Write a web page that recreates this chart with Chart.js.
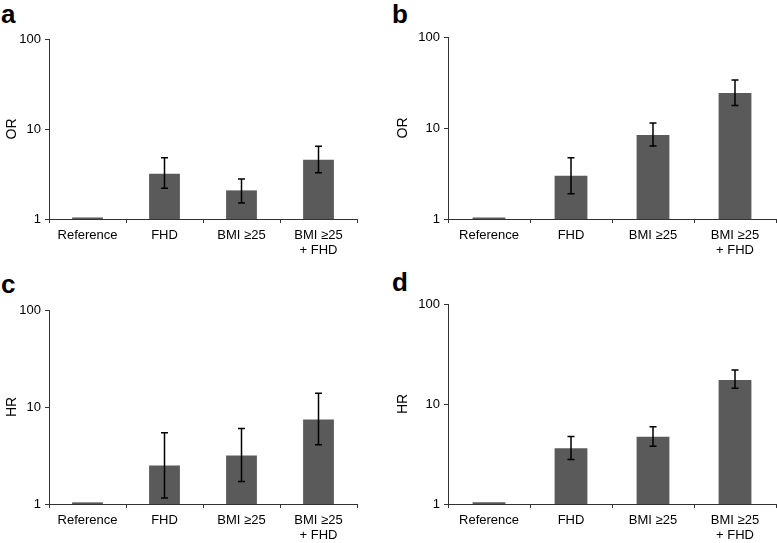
<!DOCTYPE html>
<html>
<head>
<meta charset="utf-8">
<script src="https://cdn.jsdelivr.net/npm/chart.js@4"></script>
<style>
    body { margin: 0; background: #fff; width: 777px; height: 543px; position: relative; overflow: hidden; font-family: "Liberation Sans", Arial, sans-serif; }
    .panel { position: absolute; }
    .letter { position: absolute; font-weight: bold; font-size: 26px; line-height: 26px; color: #000; }
</style>
</head>
<body>
<div class="letter" style="left:1px;top:1px">a</div>
<div class="letter" style="left:392px;top:1px">b</div>
<div class="letter" style="left:1px;top:271px">c</div>
<div class="letter" style="left:392px;top:269px">d</div>
<div class="panel" style="left:0;top:0"><canvas id="chartA" width="390" height="270"></canvas></div>
<div class="panel" style="left:390px;top:0"><canvas id="chartB" width="387" height="270"></canvas></div>
<div class="panel" style="left:0;top:270px"><canvas id="chartC" width="390" height="273"></canvas></div>
<div class="panel" style="left:390px;top:270px"><canvas id="chartD" width="387" height="273"></canvas></div>
<script>
const categories = ['Reference', 'FHD', 'BMI \u226525', ['BMI \u226525', '+ FHD']];
const yTicks = [1, 10, 100];

// a: OR
const valuesA = [1.04, 3.19, 2.08, 4.56];
const lowerA = [null, 2.19, 1.51, 3.27];
const upperA = [null, 4.8, 2.78, 6.42];

// b: OR
const valuesB = [1.04, 2.99, 8.37, 24.2];
const lowerB = [null, 1.90, 6.34, 17.7];
const upperB = [null, 4.72, 11.35, 33.7];

// c: HR
const valuesC = [1.04, 2.50, 3.16, 7.42];
const lowerC = [null, 1.15, 1.71, 4.07];
const upperC = [null, 5.42, 6.0, 13.9];

// d: HR
const valuesD = [1.04, 3.6, 4.70, 17.4];
const lowerD = [null, 2.79, 3.79, 14.4];
const upperD = [null, 4.74, 5.92, 21.9];

const axisColor = '#333';
const barColor = '#5a5a5a';
const fontFamily = '"Liberation Sans", Arial, sans-serif';

// error bars drawn from the y scale
const errorBars = {
    id: 'errorBars',
    afterDatasetsDraw(chart) {
        const ds = chart.data.datasets[0];
        const meta = chart.getDatasetMeta(0);
        const y = chart.scales.y;
        const ctx = chart.ctx;
        ctx.save();
        ctx.strokeStyle = '#000';
        ctx.lineWidth = 1.5;
        meta.data.forEach((bar, i) => {
            if (ds.lower[i] == null) return;
            const top = y.getPixelForValue(ds.upper[i]);
            const bottom = y.getPixelForValue(ds.lower[i]);
            ctx.beginPath();
            ctx.moveTo(bar.x, top);
            ctx.lineTo(bar.x, bottom);
            ctx.moveTo(bar.x - 3.5, top);
            ctx.lineTo(bar.x + 3.5, top);
            ctx.moveTo(bar.x - 3.5, bottom);
            ctx.lineTo(bar.x + 3.5, bottom);
            ctx.stroke();
        });
        ctx.restore();
    }
};

function makeChart(id, yTitle, values, lower, upper, box) {
    const canvas = document.getElementById(id);
    return new Chart(canvas.getContext('2d'), {
        type: 'bar',
        data: {
            labels: categories,
            datasets: [{
                data: values,
                lower: lower,
                upper: upper,
                backgroundColor: barColor,
                borderWidth: 0,
                barPercentage: 0.4,
                categoryPercentage: 1
            }]
        },
        options: {
            responsive: false,
            animation: false,
            layout: { padding: { left: 0, top: box.top, right: canvas.width - box.right, bottom: 0 } },
            plugins: { legend: { display: false }, tooltip: { enabled: false } },
            scales: {
                x: {
                    offset: true,
                    grid: { display: true, drawOnChartArea: false, offset: true, tickLength: 4, color: axisColor },
                    border: { display: true, color: axisColor, width: 1 },
                    ticks: {
                        color: '#000', maxRotation: 0, autoSkip: false, padding: 5,
                        font: { family: fontFamily, size: 13, lineHeight: 1.15 }
                    },
                    afterFit(scale) { scale.height = canvas.height - box.bottom; }
                },
                y: {
                    type: 'logarithmic',
                    min: 1,
                    max: 100,
                    grid: { display: true, drawOnChartArea: false, tickLength: 4, color: axisColor },
                    border: { display: true, color: axisColor, width: 1 },
                    afterBuildTicks(scale) { scale.ticks = yTicks.map(v => ({ value: v })); },
                    ticks: {
                        color: '#000', padding: 4,
                        font: { family: fontFamily, size: 13 },
                        callback: v => String(v)
                    },
                    title: {
                        display: true, text: yTitle, color: '#000',
                        padding: { top: box.titlePad, bottom: 0 },
                        font: { family: fontFamily, size: 14 }
                    },
                    afterFit(scale) { scale.width = box.left; }
                }
            }
        },
        plugins: [errorBars]
    });
}

makeChart('chartA', 'OR', valuesA, lowerA, upperA, { left: 49, right: 357, top: 39, bottom: 219, titlePad: 4 });
makeChart('chartB', 'OR', valuesB, lowerB, upperB, { left: 58, right: 386, top: 37, bottom: 219, titlePad: 5 });
makeChart('chartC', 'HR', valuesC, lowerC, upperC, { left: 49, right: 357, top: 40, bottom: 234, titlePad: 4 });
makeChart('chartD', 'HR', valuesD, lowerD, upperD, { left: 58, right: 386, top: 34, bottom: 234, titlePad: 5 });
</script>
</body>
</html>
